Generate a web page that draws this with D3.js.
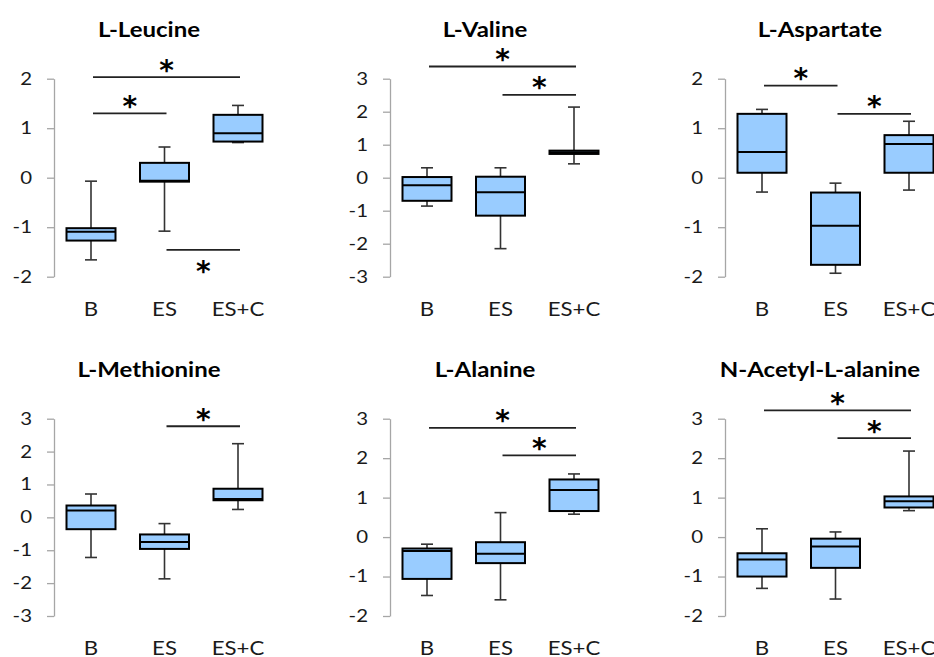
<!DOCTYPE html>
<html>
<head>
<meta charset="utf-8">
<script src="https://cdn.jsdelivr.net/npm/d3@7"></script>
<style>
  html, body { margin: 0; padding: 0; background: #fff; }
  svg { display: block; }
  text { font-family: Lato, "Open Sans", sans-serif; }
</style>
</head>
<body>
<svg id="chart" width="934" height="657"></svg>
<script>
// ---------- data ----------
const groups = ["B", "ES", "ES+C"];
const titles = ["L-Leucine", "L-Valine", "L-Aspartate", "L-Methionine", "L-Alanine", "N-Acetyl-L-alanine"];
const yTicks = [
  [-2, -1, 0, 1, 2],
  [-3, -2, -1, 0, 1, 2, 3],
  [-2, -1, 0, 1, 2],
  [-3, -2, -1, 0, 1, 2, 3],
  [-2, -1, 0, 1, 2, 3],
  [-2, -1, 0, 1, 2, 3]
];
// box stats per group: [lower whisker, Q1, median, Q3, upper whisker]
const leucine    = [[-1.66, -1.27, -1.09, -1.02, -0.07], [-1.08, -0.08, -0.06, 0.30, 0.62], [0.71, 0.73, 0.90, 1.27, 1.46]];
const valine     = [[-0.86, -0.70, -0.23, 0.02, 0.30], [-2.15, -1.15, -0.44, 0.03, 0.30], [0.42, 0.72, 0.77, 0.82, 2.14]];
const aspartate  = [[-0.29, 0.10, 0.52, 1.29, 1.38], [-1.93, -1.76, -0.97, -0.30, -0.11], [-0.25, 0.10, 0.68, 0.86, 1.14]];
const methionine = [[-1.22, -0.36, 0.21, 0.36, 0.71], [-1.87, -0.96, -0.75, -0.52, -0.19], [0.24, 0.52, 0.56, 0.87, 2.24]];
const alanine    = [[-1.48, -1.06, -0.35, -0.29, -0.18], [-1.59, -0.66, -0.42, -0.13, 0.62], [0.58, 0.66, 1.19, 1.46, 1.60]];
const acetylAla  = [[-1.30, -1.00, -0.57, -0.41, 0.21], [-1.57, -0.78, -0.24, -0.04, 0.13], [0.67, 0.75, 0.91, 1.03, 2.18]];
const stats = [leucine, valine, aspartate, methionine, alanine, acetylAla];
// significance bars: [from group, to group, level, side (1 = star above, -1 = star below)]
const sigLeucine    = [[0, 2, 2.03, 1], [0, 1, 1.30, 1], [1, 2, -1.46, -1]];
const sigValine     = [[0, 2, 3.37, 1], [1, 2, 2.51, 1]];
const sigAspartate  = [[0, 1, 1.86, 1], [1, 2, 1.29, 1]];
const sigMethionine = [[1, 2, 2.77, 1]];
const sigAlanine    = [[0, 2, 2.77, 1], [1, 2, 2.07, 1]];
const sigAcetylAla  = [[0, 2, 3.21, 1], [1, 2, 2.51, 1]];
const sigs = [sigLeucine, sigValine, sigAspartate, sigMethionine, sigAlanine, sigAcetylAla];

// ---------- layout ----------
const axisX = [54, 390, 725];
const plotTop = [78.7, 418.7];
const plotBottom = [276.7, 616];
const titleBase = [37, 377];
const catBase = [315.5, 654.5];
const boxW = 49, capW = 12;
const sx = 1.2; // horizontal text stretch of the original figure

const svg = d3.select("#chart");

function stretchedText(parent, x, y) {
  return parent.append("text").attr("transform", `translate(${x},${y}) scale(${sx},1)`);
}

titles.forEach((title, p) => {
  const col = p % 3, row = Math.floor(p / 3);
  const ax = axisX[col];
  const ticks = yTicks[p];
  const y = d3.scaleLinear().domain([d3.min(ticks), d3.max(ticks)]).range([plotBottom[row], plotTop[row]]);
  const x = d3.scalePoint().domain(groups).range([ax + 37, ax + 184]);
  const g = svg.append("g");

  // title
  stretchedText(g, ax + 95, titleBase[row])
    .attr("text-anchor", "middle").attr("font-size", 20).attr("font-weight", "bold")
    .attr("fill", "#000").text(title);

  // y axis
  const axis = d3.axisLeft(y).tickValues(ticks).tickSize(7).tickSizeOuter(0).tickPadding(15)
    .tickFormat(d => String(d));
  const ag = g.append("g").attr("transform", `translate(${ax},0)`).call(axis);
  ag.select(".domain").attr("stroke", "#a6a6a6").attr("stroke-width", 1.3);
  ag.selectAll(".tick line").attr("stroke", "#a6a6a6").attr("stroke-width", 1.3);
  ag.selectAll(".tick text").attr("font-size", 17).attr("fill", "#1a1a1a")
    .style("font-family", "Lato, sans-serif")
    .attr("x", -22 / sx).attr("transform", `scale(${sx},1)`);

  // category labels
  groups.forEach(c => {
    stretchedText(g, x(c), catBase[row])
      .attr("text-anchor", "middle").attr("font-size", 18.5).attr("fill", "#1a1a1a").text(c);
  });

  // boxes
  const data = stats[p].map((s, i) => ({ g: groups[i], s }));
  const bx = g.selectAll(".bx").data(data).enter().append("g");
  // whiskers
  bx.append("line").attr("x1", d => x(d.g)).attr("x2", d => x(d.g))
    .attr("y1", d => y(d.s[3])).attr("y2", d => y(d.s[4]))
    .attr("stroke", "#333").attr("stroke-width", 1.6);
  bx.append("line").attr("x1", d => x(d.g)).attr("x2", d => x(d.g))
    .attr("y1", d => y(d.s[1])).attr("y2", d => y(d.s[0]))
    .attr("stroke", "#333").attr("stroke-width", 1.6);
  bx.append("line").attr("x1", d => x(d.g) - capW / 2).attr("x2", d => x(d.g) + capW / 2)
    .attr("y1", d => y(d.s[4])).attr("y2", d => y(d.s[4]))
    .attr("stroke", "#333").attr("stroke-width", 1.6);
  bx.append("line").attr("x1", d => x(d.g) - capW / 2).attr("x2", d => x(d.g) + capW / 2)
    .attr("y1", d => y(d.s[0])).attr("y2", d => y(d.s[0]))
    .attr("stroke", "#333").attr("stroke-width", 1.6);
  // box
  bx.append("rect").attr("x", d => x(d.g) - boxW / 2).attr("width", boxW)
    .attr("y", d => y(d.s[3])).attr("height", d => y(d.s[1]) - y(d.s[3]))
    .attr("fill", "#99ccff").attr("stroke", "#000").attr("stroke-width", 2);
  // median
  bx.append("line").attr("x1", d => x(d.g) - boxW / 2).attr("x2", d => x(d.g) + boxW / 2)
    .attr("y1", d => y(d.s[2])).attr("y2", d => y(d.s[2]))
    .attr("stroke", "#000").attr("stroke-width", 2);

  // significance bars
  sigs[p].forEach(d => {
    const x1 = x(groups[d[0]]) + 2, x2 = x(groups[d[1]]) + 2, ly = y(d[2]);
    g.append("line").attr("x1", x1).attr("x2", x2).attr("y1", ly).attr("y2", ly)
      .attr("stroke", "#222").attr("stroke-width", 1.8);
    const cy = d[3] > 0 ? ly - 12 : ly + 17; // star centre
    g.append("text").attr("x", (x1 + x2) / 2).attr("y", cy + 14.5)
      .attr("text-anchor", "middle").attr("font-size", 28).attr("font-weight", "bold")
      .style("font-family", "'DejaVu Sans', sans-serif")
      .attr("fill", "#000").text("*");
  });
});
</script>
</body>
</html>
